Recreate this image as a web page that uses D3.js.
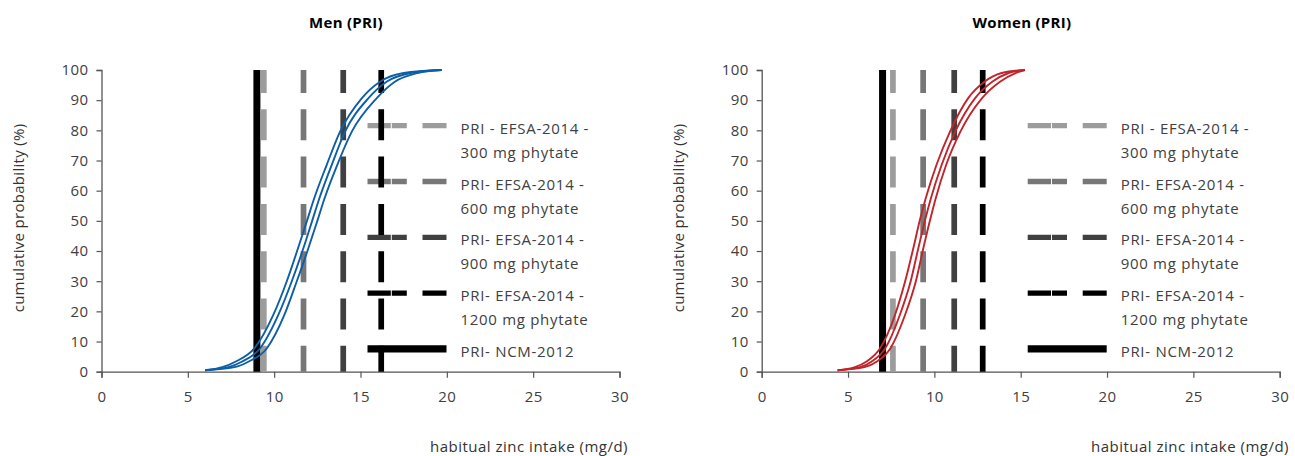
<!DOCTYPE html>
<html>
<head>
<meta charset="utf-8">
<script src="https://cdn.jsdelivr.net/npm/d3@7"></script>
<style>
  body { margin: 0; padding: 0; background: #fff; }
  svg text { font-family: "Open Sans", "DejaVu Sans", sans-serif; }
</style>
</head>
<body>
<div id="chart"></div>
<script>
// ---- data ----
const xTicks = [0, 5, 10, 15, 20, 25, 30];
const yTicks = [0, 10, 20, 30, 40, 50, 60, 70, 80, 90, 100];

const menNcm = 9.0;
const menEfsa = [9.4, 11.7, 14.0, 16.2];      // 300, 600, 900, 1200 mg phytate
const womenNcm = 7.0;
const womenEfsa = [7.6, 9.35, 11.15, 12.8];

// cumulative curves [intake, %] - lower bound, estimate, upper bound
const menLeft = [[6.0,0.5],[7.0,1.5],[7.75,3.3],[8.85,7.7],[9.95,18.8],[10.72,29.8],[11.38,40.9],[11.9,50],[12.32,57.5],[13.04,68.5],[13.81,79.5],[15.07,90.6],[16.13,96.1],[17.5,99],[19.7,100]];
const menMid = [[6.0,0.5],[7.35,1.5],[8.12,3.3],[9.18,7.7],[10.24,18.8],[11.01,29.8],[11.69,40.9],[12.2,50],[12.62,57.5],[13.33,68.5],[14.1,79.5],[15.45,90.6],[16.51,96.1],[17.9,99],[19.7,100]];
const menRight = [[6.0,0.5],[7.7,1.5],[8.5,3.3],[9.57,7.7],[10.59,18.8],[11.3,29.8],[11.98,40.9],[12.5,50],[12.92,57.5],[13.65,68.5],[14.49,79.5],[15.93,90.6],[16.99,96.1],[18.3,99],[19.7,100]];

const womenLeft = [[4.4,0.5],[5.4,1.5],[6.05,3.3],[6.85,7.7],[7.72,18.8],[8.3,29.8],[8.78,40.9],[9.15,50],[9.5,57.5],[10.12,68.5],[10.9,79.5],[11.95,90.6],[12.9,96.1],[13.9,99],[15.25,100]];
const womenMid = [[4.4,0.5],[5.7,1.5],[6.35,3.3],[7.15,7.7],[8.0,18.8],[8.62,29.8],[9.07,40.9],[9.45,50],[9.8,57.5],[10.42,68.5],[11.2,79.5],[12.35,90.6],[13.35,96.1],[14.3,99],[15.25,100]];
const womenRight = [[4.4,0.5],[5.95,1.5],[6.65,3.3],[7.45,7.7],[8.3,18.8],[8.92,29.8],[9.36,40.9],[9.74,50],[10.08,57.5],[10.68,68.5],[11.5,79.5],[12.75,90.6],[13.8,96.1],[14.7,99],[15.25,100]];

const legendLabels = [
  ["PRI - EFSA-2014 -", "300 mg phytate"],
  ["PRI- EFSA-2014 -", "600 mg phytate"],
  ["PRI- EFSA-2014 -", "900 mg phytate"],
  ["PRI- EFSA-2014 -", "1200 mg phytate"],
  ["PRI- NCM-2012"]
];
const efsaColors = ["#9c9c9c", "#777777", "#404040", "#000000"];

// ---- drawing ----
const W = 1295, H = 456;
const svg = d3.select("#chart").append("svg").attr("width", W).attr("height", H);

function drawPanel(opt) {
  const x = d3.scaleLinear().domain([0, 30]).range([opt.left, opt.left + 518]);
  const y = d3.scaleLinear().domain([0, 100]).range([371.7, 70]);
  const g = svg.append("g");

  // title
  g.append("text").attr("x", opt.titleX).attr("y", 28)
    .attr("text-anchor", "middle").attr("font-size", 15).attr("font-weight", "bold")
    .attr("letter-spacing", 0.3).attr("fill", "#000").text(opt.title);

  // axes
  const xAxis = g.append("g").attr("transform", "translate(0,371.7)")
    .call(d3.axisBottom(x).tickValues(xTicks).tickSize(6).tickPadding(14));
  const yAxis = g.append("g").attr("transform", "translate(" + opt.left + ",0)")
    .call(d3.axisLeft(y).tickValues(yTicks).tickSize(5).tickPadding(8));
  [xAxis, yAxis].forEach(a => {
    a.select(".domain").attr("stroke", "#555").attr("stroke-width", 1.3);
    a.selectAll(".tick line").attr("stroke", "#555").attr("stroke-width", 1.2);
    a.selectAll(".tick text").attr("font-size", 15).attr("fill", "#404040")
      .attr("letter-spacing", 0.4).attr("font-family", "'Open Sans', sans-serif");
  });

  // axis labels
  g.append("text").attr("x", opt.xLabelX).attr("y", 452).attr("text-anchor", "middle")
    .attr("font-size", 15).attr("letter-spacing", 0.5).attr("fill", "#333")
    .text("habitual zinc intake (mg/d)");
  g.append("text").attr("transform", "translate(" + (opt.left - 78) + ",218) rotate(-90)")
    .attr("text-anchor", "middle").attr("font-size", 15).attr("letter-spacing", 0.3)
    .attr("fill", "#333").text("cumulative probability (%)");

  // legend
  const lx0 = opt.left + 266, lx1 = lx0 + 79;
  const lg = g.append("g");
  legendLabels.forEach((lab, i) => {
    const ly = 125.7 + i * 55.8;
    const solid = i === 4;
    lg.append("line").attr("x1", lx0).attr("x2", lx1).attr("y1", ly).attr("y2", ly)
      .attr("stroke", solid ? "#000" : efsaColors[i])
      .attr("stroke-width", solid ? 7.3 : 5.3)
      .attr("stroke-dasharray", solid ? null : "23.3,1,15,15.7,24");
    lab.forEach((t, j) => {
      lg.append("text").attr("x", lx1 + 14).attr("y", ly + 8 + j * 24)
        .attr("font-size", 15).attr("letter-spacing", 0.7).attr("fill", "#404040").text(t);
    });
  });

  // NCM solid line
  g.append("line").attr("x1", x(opt.ncm)).attr("x2", x(opt.ncm))
    .attr("y1", y(100)).attr("y2", y(0))
    .attr("stroke", "#000").attr("stroke-width", 7);

  // EFSA dashed lines
  g.selectAll(".efsa").data(opt.efsa).enter().append("line")
    .attr("x1", d => x(d)).attr("x2", d => x(d))
    .attr("y1", y(100)).attr("y2", y(0))
    .attr("stroke", (d, i) => efsaColors[i]).attr("stroke-width", 5.7)
    .attr("stroke-dasharray", "31,16.3").attr("stroke-dashoffset", 8);

  // cumulative curves
  const line = d3.line().x(d => x(d[0])).y(d => y(d[1])).curve(d3.curveMonotoneX);
  opt.curves.forEach(c => {
    g.append("path").attr("d", line(c)).attr("fill", "none")
      .attr("stroke", opt.color).attr("stroke-width", 1.9);
  });
}

drawPanel({
  left: 101.5, title: "Men (PRI)", titleX: 346, xLabelX: 529,
  ncm: menNcm, efsa: menEfsa, curves: [menLeft, menMid, menRight], color: "#0d5ea6"
});
drawPanel({
  left: 761.7, title: "Women (PRI)", titleX: 1022, xLabelX: 1190,
  ncm: womenNcm, efsa: womenEfsa, curves: [womenLeft, womenMid, womenRight], color: "#c0252b"
});
</script>
</body>
</html>
